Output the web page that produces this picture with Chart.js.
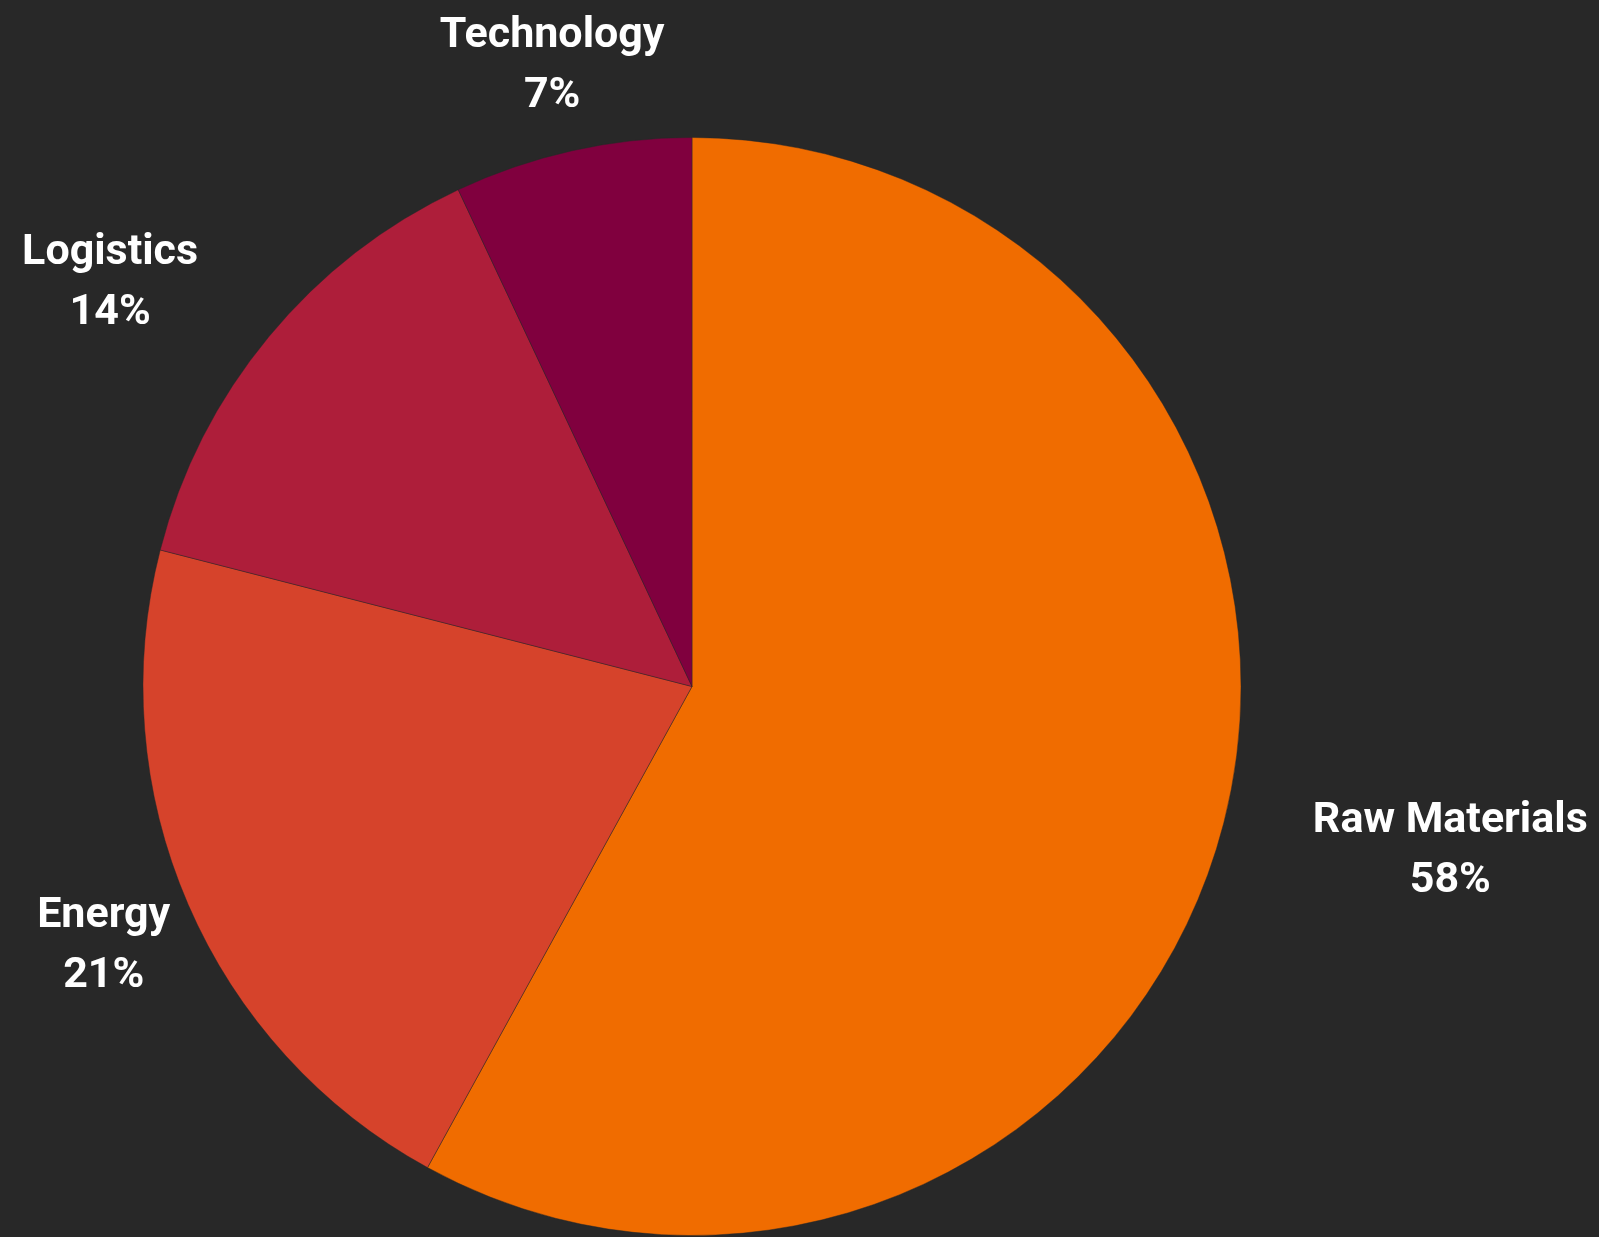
<!DOCTYPE html>
<html>
<head>
<meta charset="utf-8">
<title>Cost breakdown</title>
<script src="https://cdn.jsdelivr.net/npm/chart.js@4/dist/chart.umd.min.js"></script>
<style>
  html, body { margin: 0; padding: 0; background: #282828; }
  #wrap { width: 1599px; height: 1237px; position: relative; }
</style>
</head>
<body>
<div id="wrap"><canvas id="chart"></canvas></div>
<script>
// Share of total cost by category (percent)
const categories = ['Raw Materials', 'Energy', 'Logistics', 'Technology'];
const shares = [58, 21, 14, 7];
const sliceColors = ['#f06c00', '#d6432b', '#ae1e3a', '#80003e'];

const LABEL_FONT = 'bold 43px Roboto';
const LINE_HEIGHT = 60;
const LABEL_GAP = 92;
const TEXT_DROP = 5;

// Draws "name / percent" outside each slice. The block is centred on a point
// just beyond the rim; if that would overlap the pie, it is pushed outward so
// its inner edge sits on that point.
const outsideLabels = {
  id: 'outsideLabels',
  afterDatasetsDraw(chart) {
    const ctx = chart.ctx;
    const meta = chart.getDatasetMeta(0);
    const total = shares.reduce((a, b) => a + b, 0);
    ctx.save();
    ctx.font = LABEL_FONT;
    ctx.fillStyle = '#ffffff';
    ctx.textAlign = 'center';
    ctx.textBaseline = 'middle';
    meta.data.forEach((arc, i) => {
      const p = arc.getProps(['x', 'y', 'startAngle', 'endAngle', 'outerRadius'], true);
      const mid = (p.startAngle + p.endAngle) / 2;
      const cos = Math.cos(mid), sin = Math.sin(mid);
      const ax = p.x + (p.outerRadius + LABEL_GAP) * cos;
      const ay = p.y + (p.outerRadius + LABEL_GAP) * sin;
      const lines = [categories[i], Math.round(shares[i] / total * 100) + '%'];
      const w = Math.max(...lines.map(t => ctx.measureText(t).width));
      const h = lines.length * LINE_HEIGHT;
      let cx = ax;
      const cy = ay;
      // nearest point of a centred box to the pie centre
      const nx = Math.max(cx - w / 2, Math.min(p.x, cx + w / 2));
      const ny = Math.max(cy - h / 2, Math.min(p.y, cy + h / 2));
      if (Math.hypot(nx - p.x, ny - p.y) < p.outerRadius) {
        cx = cos >= 0 ? ax + w / 2 : ax - w / 2;
      }
      lines.forEach((t, k) => {
        ctx.fillText(t, cx, cy - h / 2 + LINE_HEIGHT * (k + 0.5) + TEXT_DROP);
      });
    });
    ctx.restore();
  }
};

new Chart(document.getElementById('chart'), {
  type: 'pie',
  data: {
    labels: categories,
    datasets: [{
      data: shares,
      backgroundColor: sliceColors,
      borderColor: 'rgba(40,40,40,0.45)',
      borderWidth: 1
    }]
  },
  options: {
    responsive: true,
    maintainAspectRatio: false,
    animation: false,
    layout: { padding: { top: 137, bottom: 1, left: 0, right: 215 } },
    plugins: {
      legend: { display: false },
      tooltip: { enabled: false }
    }
  },
  plugins: [outsideLabels]
});
</script>
</body>
</html>
